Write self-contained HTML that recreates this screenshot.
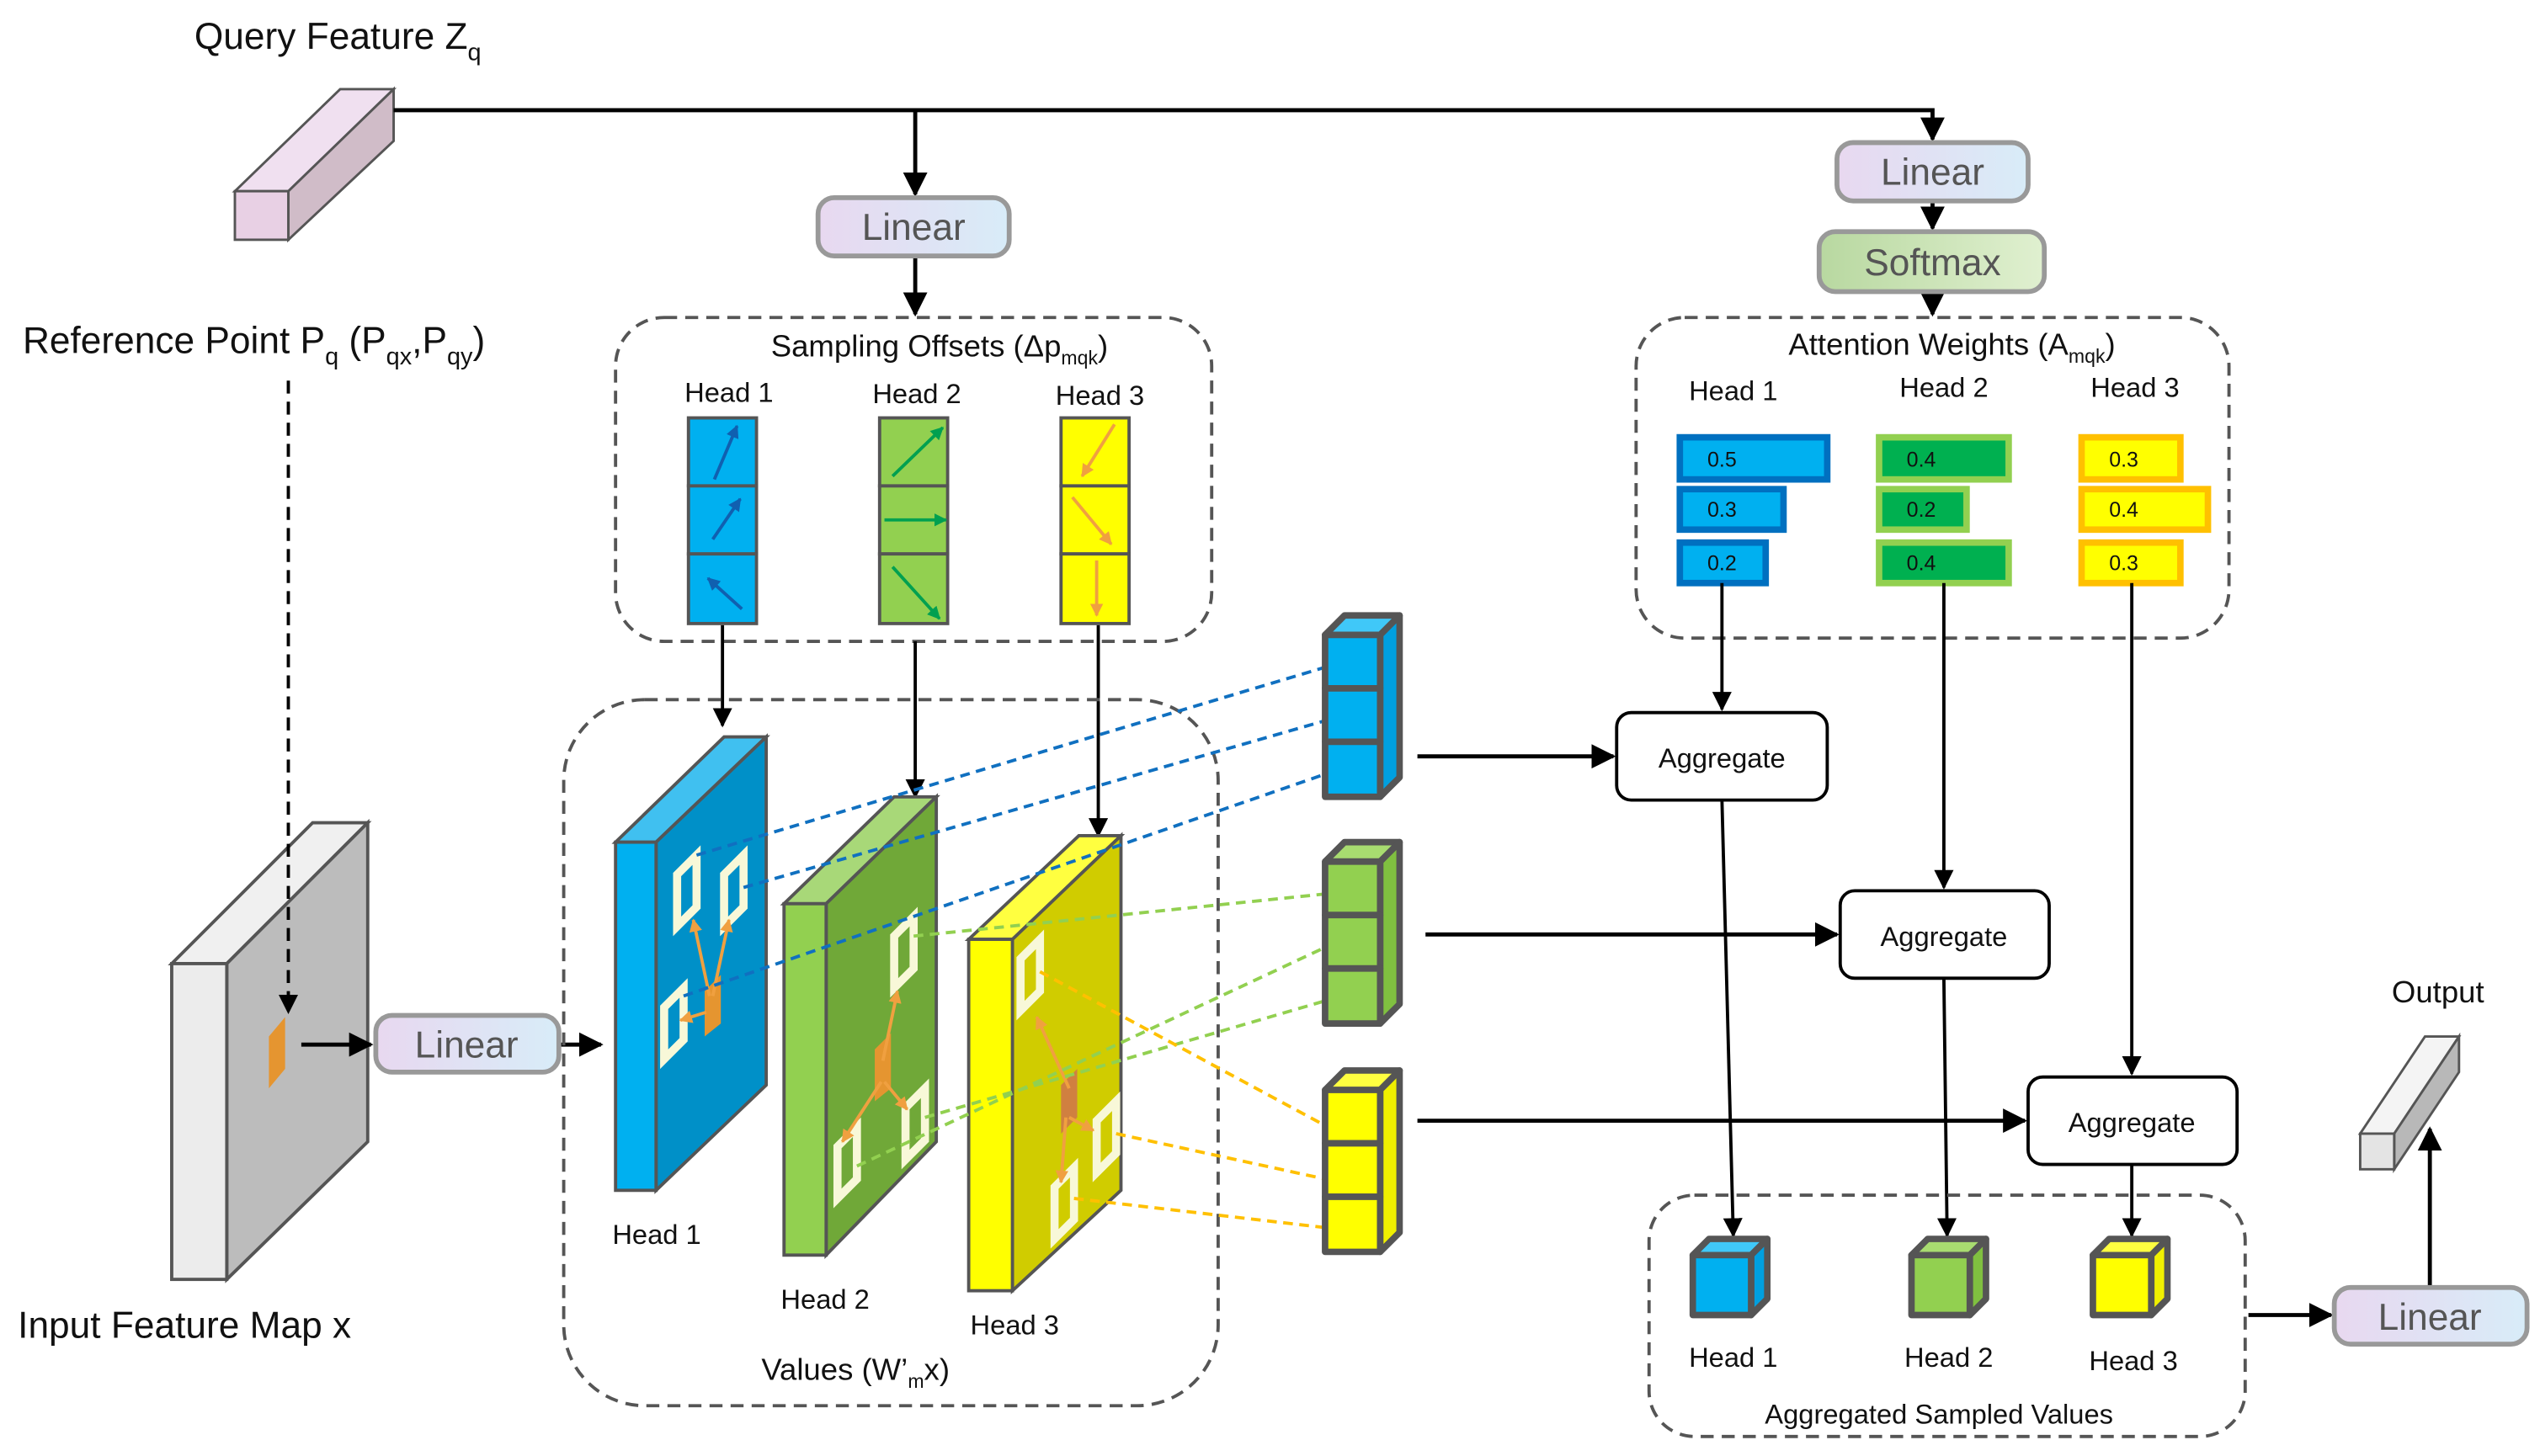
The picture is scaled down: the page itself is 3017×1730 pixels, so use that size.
<!DOCTYPE html>
<html><head><meta charset="utf-8"><style>
html,body{margin:0;padding:0;background:#fff;}
svg{display:block;}
text{font-family:"Liberation Sans",sans-serif;fill:#111;}
</style></head><body>
<svg width="3017" height="1730" viewBox="0 0 1568 899" xmlns="http://www.w3.org/2000/svg">
<defs>
<marker id="ah" viewBox="0 0 10 10" refX="9" refY="5" markerWidth="6" markerHeight="6" orient="auto-start-reverse"><path d="M0,0 L10,5 L0,10 z" fill="#000"/></marker>
<marker id="ab" viewBox="0 0 10 10" refX="9" refY="5" markerWidth="4" markerHeight="4" orient="auto"><path d="M0,0 L10,5 L0,10 z" fill="#1060b0"/></marker>
<marker id="ag" viewBox="0 0 10 10" refX="9" refY="5" markerWidth="4" markerHeight="4" orient="auto"><path d="M0,0 L10,5 L0,10 z" fill="#00a050"/></marker>
<marker id="ao" viewBox="0 0 10 10" refX="9" refY="5" markerWidth="4" markerHeight="4" orient="auto"><path d="M0,0 L10,5 L0,10 z" fill="#f0a040"/></marker>
<linearGradient id="lin" x1="0" x2="1"><stop offset="0" stop-color="#e8d8f0"/><stop offset="1" stop-color="#d8ecf8"/></linearGradient>
<linearGradient id="sm" x1="0" x2="1"><stop offset="0" stop-color="#b8d8a0"/><stop offset="1" stop-color="#e0f0d0"/></linearGradient>
</defs>

<text x="120" y="30" font-size="23">Query Feature Z<tspan font-size="15" dy="7">q</tspan></text>
<text x="14" y="218" font-size="23">Reference Point P<tspan font-size="15" dy="7">q</tspan><tspan dy="-7"> (P</tspan><tspan font-size="15" dy="7">qx</tspan><tspan dy="-7">,P</tspan><tspan font-size="15" dy="7">qy</tspan><tspan dy="-7">)</tspan></text>

<g stroke="#555" stroke-width="1.5">
<polygon points="145,118 178,118 243,55 210,55" fill="#f0e0f0"/>
<polygon points="178,118 243,55 243,87 178,148" fill="#d0bcc8"/>
<rect x="145" y="118" width="33" height="30" fill="#e8d0e4"/>
</g>

<g stroke="#000" stroke-width="2.5" fill="none">
<polyline points="243,68 1193,68 1193,86" marker-end="url(#ah)"/>
<line x1="565" y1="68" x2="565" y2="120" marker-end="url(#ah)"/>
<line x1="565" y1="158" x2="565" y2="194" marker-end="url(#ah)"/>
<line x1="1193" y1="124" x2="1193" y2="141" marker-end="url(#ah)"/>
<line x1="1193" y1="180" x2="1193" y2="194" marker-end="url(#ah)"/>
</g>

<rect x="505" y="122" width="118" height="36" rx="10" fill="url(#lin)" stroke="#999" stroke-width="3"/>
<text x="564" y="148" font-size="23" text-anchor="middle" style="fill:#555">Linear</text>
<rect x="1134" y="88" width="118" height="36" rx="10" fill="url(#lin)" stroke="#999" stroke-width="3"/>
<text x="1193" y="114" font-size="23" text-anchor="middle" style="fill:#555">Linear</text>
<rect x="1123" y="143" width="139" height="37" rx="10" fill="url(#sm)" stroke="#999" stroke-width="3"/>
<text x="1193" y="170" font-size="23" text-anchor="middle" style="fill:#555">Softmax</text>

<rect x="380" y="196" width="368" height="200" rx="30" fill="none" stroke="#555" stroke-width="2" stroke-dasharray="8,5"/>
<text x="580" y="220" font-size="19" text-anchor="middle">Sampling Offsets (Δp<tspan font-size="12" dy="5">mqk</tspan><tspan dy="-5">)</tspan></text>
<text x="450" y="248" font-size="17" text-anchor="middle">Head 1</text>
<text x="566" y="249" font-size="17" text-anchor="middle">Head 2</text>
<text x="679" y="250" font-size="17" text-anchor="middle">Head 3</text>
<g stroke="#555" stroke-width="2">
<rect x="425" y="258" width="42" height="42" fill="#00b0f0"/><rect x="425" y="300" width="42" height="42" fill="#00b0f0"/><rect x="425" y="342" width="42" height="43" fill="#00b0f0"/>
<rect x="543" y="258" width="42" height="42" fill="#92d050"/><rect x="543" y="300" width="42" height="42" fill="#92d050"/><rect x="543" y="342" width="42" height="43" fill="#92d050"/>
<rect x="655" y="258" width="42" height="42" fill="#ffff00"/><rect x="655" y="300" width="42" height="42" fill="#ffff00"/><rect x="655" y="342" width="42" height="43" fill="#ffff00"/>
</g>
<g stroke-width="2" fill="none">
<line x1="441" y1="296" x2="455" y2="263" stroke="#1060b0" marker-end="url(#ab)"/>
<line x1="440" y1="333" x2="457" y2="308" stroke="#1060b0" marker-end="url(#ab)"/>
<line x1="458" y1="376" x2="437" y2="357" stroke="#1060b0" marker-end="url(#ab)"/>
<line x1="551" y1="294" x2="582" y2="264" stroke="#00a050" marker-end="url(#ag)"/>
<line x1="546" y1="321" x2="584" y2="321" stroke="#00a050" marker-end="url(#ag)"/>
<line x1="551" y1="350" x2="580" y2="382" stroke="#00a050" marker-end="url(#ag)"/>
<line x1="688" y1="262" x2="668" y2="294" stroke="#f0a040" marker-end="url(#ao)"/>
<line x1="662" y1="307" x2="686" y2="336" stroke="#f0a040" marker-end="url(#ao)"/>
<line x1="677" y1="346" x2="677" y2="380" stroke="#f0a040" marker-end="url(#ao)"/>
</g>

<rect x="1010" y="196" width="366" height="198" rx="30" fill="none" stroke="#555" stroke-width="2" stroke-dasharray="8,5"/>
<text x="1205" y="219" font-size="19" text-anchor="middle">Attention Weights (A<tspan font-size="12" dy="5">mqk</tspan><tspan dy="-5">)</tspan></text>
<text x="1070" y="247" font-size="17" text-anchor="middle">Head 1</text>
<text x="1200" y="245" font-size="17" text-anchor="middle">Head 2</text>
<text x="1318" y="245" font-size="17" text-anchor="middle">Head 3</text>
<g stroke-width="4">
<rect x="1037" y="270" width="91" height="26" fill="#00b0f0" stroke="#0070c0"/>
<rect x="1037" y="302" width="64" height="25" fill="#00b0f0" stroke="#0070c0"/>
<rect x="1037" y="335" width="53" height="25" fill="#00b0f0" stroke="#0070c0"/>
<rect x="1160" y="270" width="80" height="26" fill="#00b050" stroke="#92d050"/>
<rect x="1160" y="302" width="54" height="25" fill="#00b050" stroke="#92d050"/>
<rect x="1160" y="335" width="80" height="25" fill="#00b050" stroke="#92d050"/>
<rect x="1285" y="270" width="61" height="26" fill="#ffff00" stroke="#ffc000"/>
<rect x="1285" y="302" width="78" height="25" fill="#ffff00" stroke="#ffc000"/>
<rect x="1285" y="335" width="61" height="25" fill="#ffff00" stroke="#ffc000"/>
</g>
<g font-size="13">
<text x="1054" y="288">0.5</text><text x="1054" y="319">0.3</text><text x="1054" y="352">0.2</text>
<text x="1177" y="288">0.4</text><text x="1177" y="319">0.2</text><text x="1177" y="352">0.4</text>
<text x="1302" y="288">0.3</text><text x="1302" y="319">0.4</text><text x="1302" y="352">0.3</text>
</g>

<!-- Input feature map -->
<g stroke="#555" stroke-width="2">
<polygon points="106,595 193,508 227,508 140,595" fill="#f0f0f0"/>
<polygon points="140,595 227,508 227,705 140,790" fill="#bcbcbc"/>
<rect x="106" y="595" width="34" height="195" fill="#ececec"/>
</g>
<polygon points="166,640 176,628 176,660 166,672" fill="#e59530"/>

<g stroke="#000" stroke-width="2" fill="none">
<line x1="178" y1="235" x2="178" y2="625" stroke-dasharray="8,5" marker-end="url(#ah)"/>
<line x1="446" y1="386" x2="446" y2="448" marker-end="url(#ah)"/>
<line x1="565" y1="396" x2="565" y2="492" marker-end="url(#ah)"/>
<line x1="678" y1="386" x2="678" y2="516" marker-end="url(#ah)"/>
<line x1="1063" y1="360" x2="1063" y2="438" marker-end="url(#ah)"/>
<line x1="1200" y1="360" x2="1200" y2="548" marker-end="url(#ah)"/>
<line x1="1316" y1="360" x2="1316" y2="663" marker-end="url(#ah)"/>
<line x1="1063" y1="494" x2="1070" y2="763" marker-end="url(#ah)"/>
<line x1="1200" y1="604" x2="1202" y2="763" marker-end="url(#ah)"/>
<line x1="1316" y1="719" x2="1316" y2="763" marker-end="url(#ah)"/>
<line x1="186" y1="645" x2="229" y2="645" stroke-width="2.5" marker-end="url(#ah)"/>
<line x1="345" y1="645" x2="371" y2="645" stroke-width="2.5" marker-end="url(#ah)"/>
<line x1="875" y1="467" x2="996" y2="467" stroke-width="2.5" marker-end="url(#ah)"/>
<line x1="880" y1="577" x2="1134" y2="577" stroke-width="2.5" marker-end="url(#ah)"/>
<line x1="875" y1="692" x2="1250" y2="692" stroke-width="2.5" marker-end="url(#ah)"/>
<line x1="1388" y1="812" x2="1439" y2="812" stroke-width="2.5" marker-end="url(#ah)"/>
<line x1="1500" y1="795" x2="1500" y2="697" stroke-width="2.5" marker-end="url(#ah)"/>
</g>

<rect x="232" y="627" width="113" height="35" rx="10" fill="url(#lin)" stroke="#999" stroke-width="3"/>
<text x="288" y="653" font-size="23" text-anchor="middle" style="fill:#555">Linear</text>
<text x="11" y="826" font-size="23">Input Feature Map x</text>

<rect x="348" y="432" width="404" height="436" rx="50" fill="none" stroke="#555" stroke-width="2" stroke-dasharray="8,5"/>

<g stroke="#555" stroke-width="2">
<polygon points="380,520 447,455 473,455 405,520" fill="#40c0f0"/>
<polygon points="405,520 473,455 473,670 405,735" fill="#0090c8"/>
<rect x="380" y="520" width="25" height="215" fill="#00b0f0"/>
<polygon points="484,558 552,492 578,492 510,558" fill="#a8d878"/>
<polygon points="510,558 578,492 578,705 510,775" fill="#70a838"/>
<rect x="484" y="558" width="26" height="217" fill="#92d050"/>
<polygon points="598,580 666,516 692,516 625,580" fill="#ffff40"/>
<polygon points="625,580 692,516 692,735 625,797" fill="#d0cc00"/>
<rect x="598" y="580" width="27" height="217" fill="#ffff00"/>
</g>
<g fill="none" stroke="#f8f8d8" stroke-width="5">
<polygon points="418,540 430,528 430,560 418,572"/>
<polygon points="447,540 459,528 459,560 447,572"/>
<polygon points="410,622 422,610 422,642 410,654"/>
<polygon points="552,578 564,566 564,598 552,610"/>
<polygon points="517,708 529,696 529,728 517,740"/>
<polygon points="559,684 571,672 571,704 559,716"/>
<polygon points="630,592 642,580 642,612 630,624"/>
<polygon points="677,692 689,680 689,712 677,724"/>
<polygon points="651,733 663,721 663,753 651,765"/>
</g>
<polygon points="435,612 445,602 445,632 435,640" fill="#e59530"/>
<polygon points="540,648 550,638 550,672 540,680" fill="#e59530"/>
<polygon points="655,670 665,660 665,690 655,700" fill="#d08040"/>
<g stroke="#f0a040" stroke-width="2" fill="none">
<line x1="438" y1="615" x2="428" y2="568" marker-end="url(#ao)"/>
<line x1="440" y1="615" x2="450" y2="568" marker-end="url(#ao)"/>
<line x1="436" y1="625" x2="420" y2="630" marker-end="url(#ao)"/>
<line x1="545" y1="655" x2="554" y2="612" marker-end="url(#ao)"/>
<line x1="544" y1="668" x2="520" y2="705" marker-end="url(#ao)"/>
<line x1="546" y1="668" x2="560" y2="685" marker-end="url(#ao)"/>
<line x1="660" y1="672" x2="640" y2="628" marker-end="url(#ao)"/>
<line x1="660" y1="690" x2="675" y2="698" marker-end="url(#ao)"/>
<line x1="658" y1="690" x2="655" y2="730" marker-end="url(#ao)"/>
</g>
<g font-size="17">
<text x="378" y="768">Head 1</text>
<text x="482" y="808">Head 2</text>
<text x="599" y="824">Head 3</text>
</g>
<text x="470" y="852" font-size="19">Values  (W’<tspan font-size="12" dy="5">m</tspan><tspan dy="-5">x)</tspan></text>

<g stroke-width="2" fill="none" stroke-dasharray="6,4">
<line x1="430" y1="528" x2="818" y2="412" stroke="#1070c0"/>
<line x1="459" y1="548" x2="818" y2="445" stroke="#1070c0"/>
<line x1="422" y1="615" x2="818" y2="478" stroke="#1070c0"/>
<line x1="564" y1="578" x2="818" y2="552" stroke="#92d050"/>
<line x1="529" y1="720" x2="818" y2="585" stroke="#92d050"/>
<line x1="571" y1="690" x2="818" y2="618" stroke="#92d050"/>
<line x1="642" y1="600" x2="818" y2="695" stroke="#ffc000"/>
<line x1="689" y1="700" x2="818" y2="728" stroke="#ffc000"/>
<line x1="663" y1="740" x2="818" y2="758" stroke="#ffc000"/>
</g>

<g stroke="#555" stroke-width="4" stroke-linejoin="round">
<g transform="translate(818,380)">
<polygon points="0,12 12,0 46,0 34,12" fill="#40c8f8"/><polygon points="34,12 46,0 46,100 34,112" fill="#00a0e0"/>
<rect x="0" y="12" width="34" height="33" fill="#00b0f0"/><rect x="0" y="45" width="34" height="33" fill="#00b0f0"/><rect x="0" y="78" width="34" height="34" fill="#00b0f0"/>
</g>
<g transform="translate(818,520)">
<polygon points="0,12 12,0 46,0 34,12" fill="#a8dc70"/><polygon points="34,12 46,0 46,100 34,112" fill="#80c040"/>
<rect x="0" y="12" width="34" height="33" fill="#92d050"/><rect x="0" y="45" width="34" height="33" fill="#92d050"/><rect x="0" y="78" width="34" height="34" fill="#92d050"/>
</g>
<g transform="translate(818,661)">
<polygon points="0,12 12,0 46,0 34,12" fill="#ffff40"/><polygon points="34,12 46,0 46,100 34,112" fill="#f0f000"/>
<rect x="0" y="12" width="34" height="33" fill="#ffff00"/><rect x="0" y="45" width="34" height="33" fill="#ffff00"/><rect x="0" y="78" width="34" height="34" fill="#ffff00"/>
</g>
</g>

<g fill="#fff" stroke="#000" stroke-width="2">
<rect x="998" y="440" width="130" height="54" rx="9"/>
<rect x="1136" y="550" width="129" height="54" rx="9"/>
<rect x="1252" y="665" width="129" height="54" rx="9"/>
</g>
<g font-size="17" text-anchor="middle">
<text x="1063" y="474">Aggregate</text>
<text x="1200" y="584">Aggregate</text>
<text x="1316" y="699">Aggregate</text>
</g>

<rect x="1018" y="738" width="368" height="149" rx="28" fill="none" stroke="#555" stroke-width="2" stroke-dasharray="8,5"/>
<g stroke="#555" stroke-width="4" stroke-linejoin="round">
<g transform="translate(1045,765)"><polygon points="0,10 10,0 46,0 36,10" fill="#40c8f8"/><polygon points="36,10 46,0 46,37 36,47" fill="#00a0e0"/><rect x="0" y="10" width="36" height="37" fill="#00b0f0"/></g>
<g transform="translate(1180,765)"><polygon points="0,10 10,0 46,0 36,10" fill="#a8dc70"/><polygon points="36,10 46,0 46,37 36,47" fill="#80c040"/><rect x="0" y="10" width="36" height="37" fill="#92d050"/></g>
<g transform="translate(1292,765)"><polygon points="0,10 10,0 46,0 36,10" fill="#ffff40"/><polygon points="36,10 46,0 46,37 36,47" fill="#f0f000"/><rect x="0" y="10" width="36" height="37" fill="#ffff00"/></g>
</g>
<g font-size="17" text-anchor="middle">
<text x="1070" y="844">Head 1</text>
<text x="1203" y="844">Head 2</text>
<text x="1317" y="846">Head 3</text>
<text x="1197" y="879">Aggregated Sampled Values</text>
</g>

<rect x="1441" y="795" width="119" height="35" rx="10" fill="url(#lin)" stroke="#999" stroke-width="3"/>
<text x="1500" y="821" font-size="23" text-anchor="middle" style="fill:#555">Linear</text>
<g stroke="#555" stroke-width="1.5">
<polygon points="1457,700 1478,700 1518,640 1497,640" fill="#f4f4f4"/>
<polygon points="1478,700 1518,640 1518,662 1478,722" fill="#b8b8b8"/>
<rect x="1457" y="700" width="21" height="22" fill="#e4e4e4"/>
</g>
<text x="1505" y="619" font-size="19" text-anchor="middle">Output</text>
</svg>
</body></html>
